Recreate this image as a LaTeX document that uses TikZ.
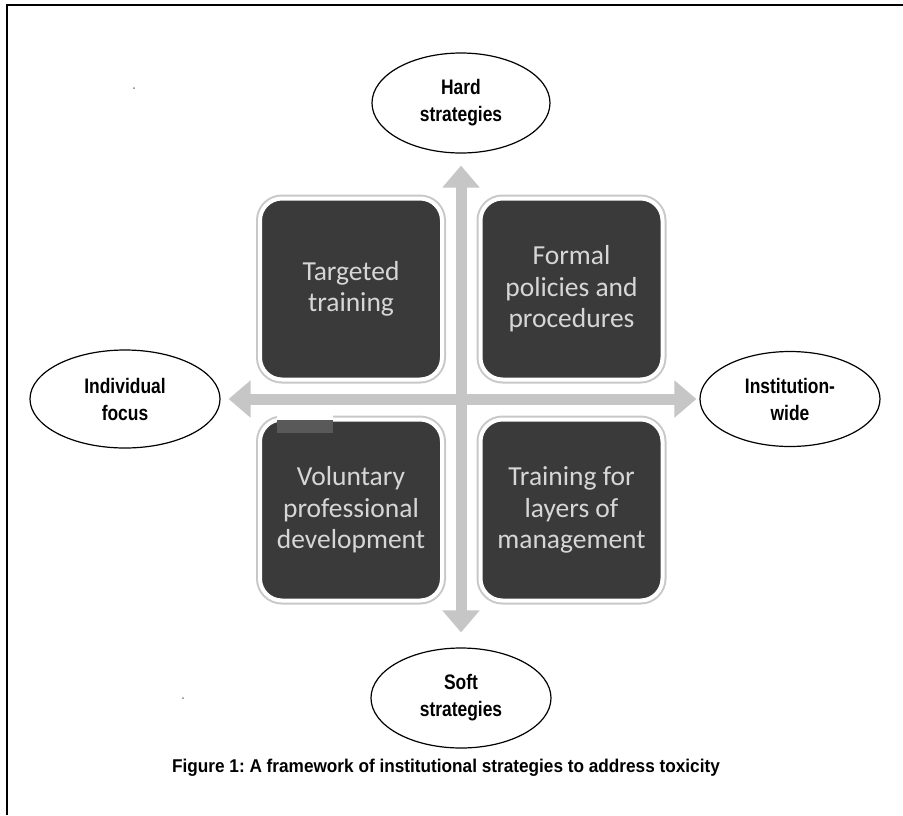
\documentclass[tikz,border=0pt]{standalone}
\usepackage{fontspec}
\setmainfont{Carlito}
\newfontfamily\condfont[FakeStretch=0.83]{Liberation Sans}
\newfontfamily\capfont[FakeStretch=0.93]{Liberation Sans}
\usetikzlibrary{arrows.meta,shapes.geometric}
\definecolor{boxdark}{HTML}{3A3A3A}
\definecolor{boxtext}{HTML}{D6D6D6}
\definecolor{axisgrey}{HTML}{C6C6C6}
\definecolor{glowgrey}{HTML}{C8C8C8}
\frenchspacing
\begin{document}
\begin{tikzpicture}[x=1pt,y=-1pt,
  oval/.style={ellipse, draw=black, line width=1.2pt, inner sep=0pt, align=center,
    font=\condfont\bfseries\fontsize{21}{27}\selectfont},
  quad/.style={rounded corners=22pt, fill=boxdark, draw=white, line width=4pt,
    preaction={draw=glowgrey, line width=8pt},
    minimum width=182pt, minimum height=181pt, inner sep=0pt, align=center,
    text=boxtext, font=\fontsize{27.5}{31.5}\selectfont},
  axisarrow/.style={draw=axisgrey, line width=11pt,
    {Triangle[width=36pt,length=22pt]}-{Triangle[width=36pt,length=22pt]}},
  caption/.style={font=\capfont\bfseries\fontsize{18.5}{22}\selectfont}
]
\useasboundingbox (0,0) rectangle (903,815);
\fill[white] (0,0) rectangle (903,815);
% frame
\draw[line width=2.5pt] (7,815) -- (7,5) -- (903,5);

% axis label ellipses
\node[oval, minimum width=178pt, minimum height=100pt] (hard) at (461,103) {Hard\\strategies};
\node[oval, minimum width=180pt, minimum height=100pt] (soft) at (461,698) {Soft\\strategies};
\node[oval, minimum width=190pt, minimum height=98pt] (indiv) at (125,399) {Individual\\focus};
\node[oval, minimum width=180pt, minimum height=95pt] (inst) at (790,399) {Institution-\\wide};

% axes
\draw[axisarrow, shorten <=12pt, shorten >=15pt] (hard) -- (soft);
\draw[axisarrow, shorten <=8pt, shorten >=3pt] (indiv) -- (inst);

% quadrant boxes
\node[quad] (tl) at (351,289) {Targeted\\training};
\node[quad] (tr) at (571.5,289) {Formal\\policies and\\procedures};
\node[quad] (bl) at (351,510) {Voluntary\\professional\\development};
\node[quad] (br) at (571.5,510) {Training for\\layers of\\management};

% scan artefacts
\fill[white] (277,406) rectangle (333,420);
\fill[gray!70!black] (277,420) rectangle (333,433);
\fill[gray] (134,88) circle (1pt);
\fill[gray] (183,698) circle (1pt);

% caption
\node[caption] (cap) at (446,768) {Figure 1: A framework of institutional strategies to address toxicity};
\end{tikzpicture}
\end{document}
